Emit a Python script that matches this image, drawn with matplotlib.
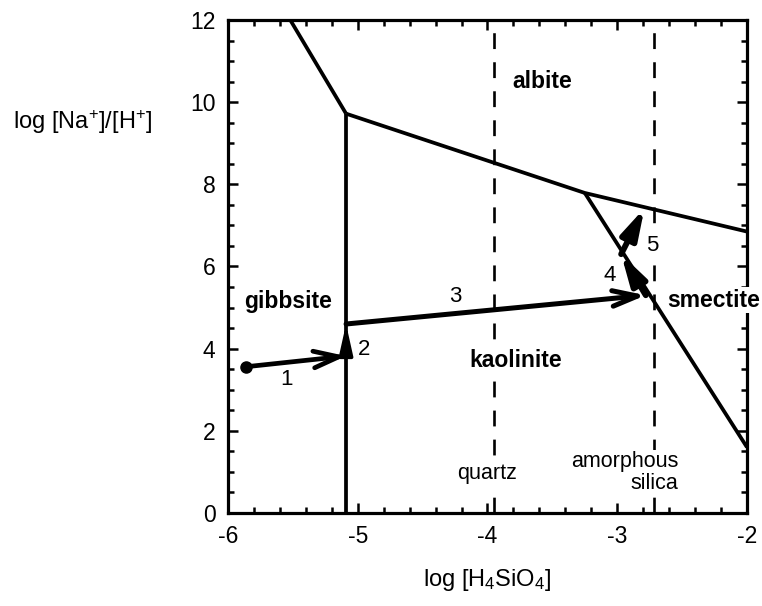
import matplotlib.pyplot as plt
from matplotlib.ticker import MultipleLocator

plt.rcParams['font.family'] = ['Liberation Sans', 'DejaVu Sans']
plt.rcParams['mathtext.fontset'] = 'custom'
plt.rcParams['mathtext.rm'] = 'Liberation Sans'
plt.rcParams['mathtext.it'] = 'Liberation Sans:italic'
plt.rcParams['mathtext.bf'] = 'Liberation Sans:bold'

# Phase boundaries (log H4SiO4, log Na+/H+)
gibbsite_albite_x = [-5.52, -5.09]
gibbsite_albite_y = [12.0, 9.72]
albite_x = [-5.09, -3.25, -2.0]
albite_y = [9.72, 7.79, 6.85]
gibbsite_kaolinite_x = [-5.09, -5.09]
gibbsite_kaolinite_y = [0.0, 9.72]
smectite_x = [-3.25, -2.0]
smectite_y = [7.79, 1.6]

# Silica saturation
quartz_x = -3.95
amorphous_x = -2.72

# Reaction path
path_x = [-5.86, -5.09, -5.09, -2.78, -2.97, -2.79]
path_y = [3.56, 3.82, 4.6, 5.3, 6.3, 7.42]
step_labels = ['1', '2', '3', '4', '5']
step_label_x = [-5.55, -4.95, -4.25, -3.06, -2.73]
step_label_y = [3.24, 3.97, 5.26, 5.79, 6.52]

fields = ['gibbsite', 'albite', 'kaolinite', 'smectite']
field_x = [-5.54, -3.58, -3.78, -2.26]
field_y = [5.14, 10.5, 3.72, 5.18]

xticks = [-6, -5, -4, -3, -2]
yticks = [0, 2, 4, 6, 8, 10, 12]

fig = plt.figure(figsize=(7.62, 6.06), dpi=100)
ax = fig.add_axes([0.2992, 0.1535, 0.6811, 0.8135])

for xs, ys in [(gibbsite_albite_x, gibbsite_albite_y), (albite_x, albite_y),
               (gibbsite_kaolinite_x, gibbsite_kaolinite_y), (smectite_x, smectite_y)]:
    ax.plot(xs, ys, color='black', lw=2.7, solid_capstyle='butt', zorder=3)

for xv in [quartz_x, amorphous_x]:
    ax.plot([xv, xv], [0, 12], color='black', lw=1.9, dashes=(6, 5), zorder=2)

ax.plot(path_x[0], path_y[0], 'o', color='black', ms=8, zorder=4)

styles = [
    dict(arrowstyle='->,head_length=0.9,head_width=0.3', lw=3.4),
    dict(arrowstyle='-|>,head_length=0.9,head_width=0.2', lw=2.6),
    dict(arrowstyle='->,head_length=0.9,head_width=0.28', lw=3.6),
    dict(arrowstyle='-|>,head_length=0.9,head_width=0.25', lw=4.2),
    dict(arrowstyle='-|>,head_length=0.9,head_width=0.25', lw=4.2),
]
for i in range(5):
    st = styles[i]
    ax.annotate('', xy=(path_x[i + 1], path_y[i + 1]), xytext=(path_x[i], path_y[i]),
                arrowprops=dict(arrowstyle=st['arrowstyle'], lw=st['lw'], color='black',
                                shrinkA=0, shrinkB=0, mutation_scale=20),
                zorder=5)

box = dict(facecolor='white', edgecolor='none', pad=1)

for lab, lx, ly in zip(step_labels, step_label_x, step_label_y):
    t = ax.text(lx, ly, lab, fontsize=16, ha='center', va='center', zorder=4)
    if lab == '5':
        t.set_bbox(box)

for lab, lx, ly in zip(fields, field_x, field_y):
    ax.text(lx, ly, lab, fontsize=16.5, fontweight='bold', ha='center', va='center',
            bbox=box, zorder=6, clip_on=False)

ax.text(-4.0, 0.97, 'quartz', fontsize=15.5, ha='center', va='center', bbox=box, zorder=4)
ax.text(-2.53, 0.98, 'amorphous\nsilica', fontsize=15.5, ha='right', va='center',
        multialignment='right', linespacing=1.05, bbox=box, zorder=4)

ax.set_xlim(-6, -2)
ax.set_ylim(0, 12)
ax.set_xticks(xticks)
ax.set_xticklabels([str(v) for v in xticks])
ax.set_yticks(yticks)
ax.set_yticklabels([str(v) for v in yticks])
ax.xaxis.set_minor_locator(MultipleLocator(0.2))
ax.yaxis.set_minor_locator(MultipleLocator(0.5))
ax.tick_params(which='both', direction='in', top=True, right=True, width=1.8,
               labelsize=16.5)
ax.tick_params(which='major', length=7, pad=9)
ax.tick_params(which='minor', length=4)
for s in ax.spines.values():
    s.set_linewidth(2.3)

fig.text(0.2992 + 0.6811 / 2, (606 - 580) / 606, r'log [H$_4$SiO$_4$]', fontsize=17,
         ha='center', va='center')
fig.text(83 / 762, 1 - 121.7 / 606, r'log [Na$^{+}$]/[H$^{+}$]', fontsize=17,
         ha='center', va='center')

fig.savefig('out.png', dpi=100)
